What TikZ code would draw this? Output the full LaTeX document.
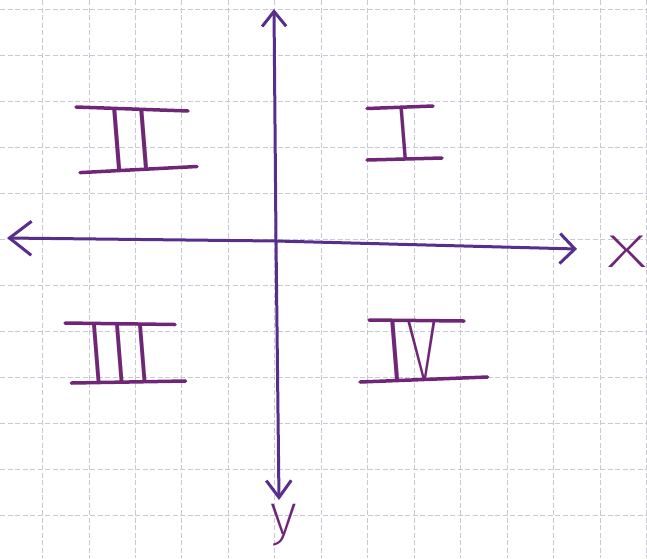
\documentclass[tikz,border=0pt]{standalone}
\usepackage{fontspec}
\newfontfamily\handfont{Fira Sans ExtraLight}[FakeSlant=-0.08]
\newfontfamily\handupright{Fira Sans ExtraLight}
\usetikzlibrary{arrows.meta}
\definecolor{axiscol}{RGB}{88,46,140}
\definecolor{numcol}{RGB}{112,38,118}
\definecolor{gridcol}{RGB}{200,201,212}
\begin{document}
\begin{tikzpicture}[x=1pt,y=-1pt,
  gridline/.style={gridcol,line width=0.8pt,dash pattern=on 5pt off 2.5pt},
  axisline/.style={axiscol,line width=3pt,line cap=round,line join=round},
  bar/.style={numcol,line width=3.5pt,line cap=round},
  numeral/.style={text=numcol,inner sep=0pt,anchor=base,font=\handfont\fontsize{#1}{#1}\selectfont},
  letter/.style={text=numcol,inner sep=0pt,anchor=base,font=\handupright\fontsize{#1}{#1}\selectfont}]
\useasboundingbox (0,0) rectangle (647,558);
\fill[white] (0,0) rectangle (647,558);
% grid
\begin{scope}
\clip (0,0) rectangle (647,558);
\foreach \k in {0,...,13} \draw[gridline] ({42.5+46.46*\k},0) -- ({42.5+46.46*\k},558);
\foreach \k in {0,...,12} \draw[gridline] (0,{9+46*\k}) -- (647,{9+46*\k});
\end{scope}
% axes
\coordinate (O) at (276,241);
\coordinate (xl) at (7,238);
\coordinate (xr) at (577,249);
\coordinate (yt) at (274,9);
\coordinate (yb) at (279,500);
\draw[axisline,{Straight Barb[length=22pt,width=34pt]}-{Straight Barb[length=15pt,width=30pt]}] (xl) -- (O) -- (xr);
\draw[axisline,{Straight Barb[length=15pt,width=24pt]}-{Straight Barb[length=17pt,width=25pt]}] (yt) -- (O) -- (yb);
% labels
\node[letter=46] (xlabel) at (627,267) {\scalebox{1.7}[1]{X}};
\node[letter=58] (ylabel) at (284,534) {y};
% numeral I
\draw[bar] (367,108.5) -- (433,106);
\draw[bar] (367,160) -- (442,158);
\node[numeral=74] (n1) at (406,159) {I};
% numeral II
\draw[bar] (76,107) -- (188,111);
\draw[bar] (80,172.6) -- (197,166.5);
\node[numeral=87] (n2) at (133,169) {I\kern3pt I};
% numeral III
\draw[bar] (65,323) -- (175,324.5);
\draw[bar] (71.4,383) -- (185.6,381);
\node[numeral=83] (n3) at (122,381) {III};
% numeral IV
\draw[bar] (369,320) -- (464,321);
\draw[bar] (360,382) -- (487.6,377);
\node[numeral=87] (n4) at (413,380) {I\scalebox{0.65}[1]{V}};
\end{tikzpicture}
\end{document}
